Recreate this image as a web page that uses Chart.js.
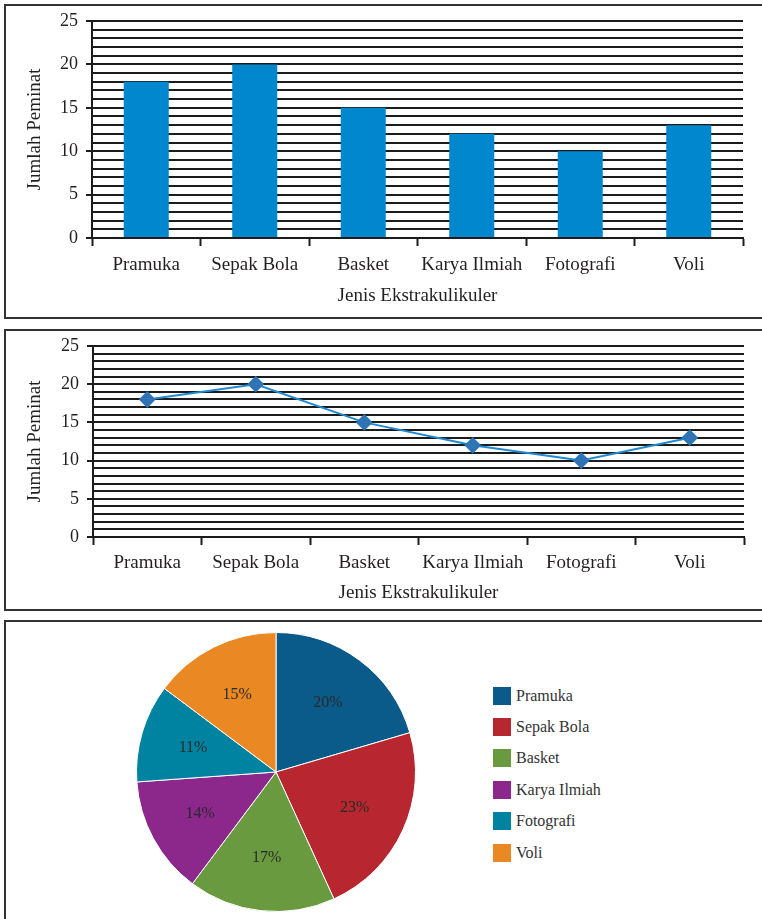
<!DOCTYPE html>
<html>
<head>
<meta charset="utf-8">
<script src="https://cdn.jsdelivr.net/npm/chart.js@4.4.1/dist/chart.umd.min.js"></script>
<style>
  html, body { margin: 0; padding: 0; background: #fff; }
  body { width: 762px; height: 919px; position: relative; overflow: hidden; }
  .panel { position: absolute; left: 4px; width: 800px; box-sizing: border-box; border: 2px solid #333; }
  canvas { position: absolute; }
  #legend { position: absolute; left: 493px; top: 680px; font-family: 'Liberation Serif', 'Times New Roman', serif; font-size: 16px; color: #333; }
  #legend .row { display: flex; align-items: center; height: 31.4px; }
  #legend .box { width: 18px; height: 18px; margin-right: 5px; }
</style>
</head>
<body>
<div class="panel" style="top:4px;height:315px;"></div>
<div class="panel" style="top:329px;height:282px;"></div>
<div class="panel" style="top:620px;height:400px;"></div>

<canvas id="barChart" width="762" height="320" style="left:0;top:0;"></canvas>
<canvas id="lineChart" width="762" height="300" style="left:0;top:320px;"></canvas>
<canvas id="pieChart" width="300" height="300" style="left:126px;top:622px;"></canvas>
<div id="legend"></div>

<script>
const categories = ['Pramuka', 'Sepak Bola', 'Basket', 'Karya Ilmiah', 'Fotografi', 'Voli'];
const peminat = [18, 20, 15, 12, 10, 13];
const pieColors = ['#0a5a8a', '#b8272f', '#6a9a3f', '#8c288c', '#0083a0', '#ea8823'];
const yTitle = 'Jumlah Peminat';
const xTitle = 'Jenis Ekstrakulikuler';

Chart.defaults.font.family = "'Liberation Serif', 'Times New Roman', serif";
Chart.defaults.color = '#231f20';
Chart.defaults.animation = false;

const black = '#1c1c1c';

function makeScales(yWidth, tickPad, titlePad) {
    return {
        x: {
            offset: true,
            afterFit: (scale) => { scale.height = tickPad.h; },
            grid: {
                offset: true,
                drawOnChartArea: false,
                drawTicks: true,
                tickLength: 8,
                tickColor: black,
                tickWidth: 2
            },
            border: {display: true, color: black, width: 2},
            ticks: {font: {size: 19}, padding: tickPad.p, maxRotation: 0, autoSkip: false},
            title: {display: true, text: xTitle, font: {size: 19}, padding: {top: 0, bottom: titlePad}}
        },
        y: {
            min: 0,
            max: 25,
            afterFit: (scale) => { scale.width = yWidth; },
            ticks: {
                stepSize: 1,
                maxTicksLimit: 30,
                autoSkip: false,
                padding: 8,
                font: {size: 18},
                callback: (v) => (v % 5 === 0 ? v : '')
            },
            grid: {
                color: black,
                lineWidth: 2,
                tickLength: 6,
                tickWidth: 2,
                tickColor: (ctx) => (ctx.tick && ctx.tick.value % 5 === 0 ? black : 'rgba(0,0,0,0)')
            },
            border: {display: true, color: black, width: 2},
            title: {display: true, text: yTitle, font: {size: 19}, padding: {top: 24, bottom: 0}}
        }
    };
}

new Chart(document.getElementById('barChart'), {
    type: 'bar',
    data: {
        labels: categories,
        datasets: [{
            data: peminat,
            backgroundColor: '#0087cd',
            barPercentage: 0.415,
            categoryPercentage: 1
        }]
    },
    options: {
        responsive: false,
        layout: {padding: {top: 21, right: 19, left: 0, bottom: 0}},
        plugins: {legend: {display: false}, tooltip: {enabled: false}},
        scales: makeScales(92, {h: 82, p: 8}, 13)
    }
});

new Chart(document.getElementById('lineChart'), {
    type: 'line',
    data: {
        labels: categories,
        datasets: [{
            data: peminat,
            borderColor: '#1e8ad2',
            borderWidth: 2,
            pointStyle: 'rectRot',
            pointRadius: 7,
            pointBackgroundColor: '#2f74b5',
            pointBorderColor: '#2f74b5',
            tension: 0
        }]
    },
    options: {
        responsive: false,
        layout: {padding: {top: 26, right: 18, left: 0, bottom: 0}},
        plugins: {legend: {display: false}, tooltip: {enabled: false}},
        scales: makeScales(93, {h: 83, p: 7}, 16)
    }
});

const total = peminat.reduce((a, b) => a + b, 0);

const pieLabels = {
    id: 'pieLabels',
    afterDatasetsDraw(chart) {
        const ctx = chart.ctx;
        const meta = chart.getDatasetMeta(0);
        ctx.save();
        ctx.font = "16px 'Liberation Serif', 'Times New Roman', serif";
        ctx.fillStyle = '#2a2a2a';
        ctx.textAlign = 'center';
        ctx.textBaseline = 'middle';
        meta.data.forEach((arc, i) => {
            const mid = (arc.startAngle + arc.endAngle) / 2;
            const r = arc.outerRadius * 0.62;
            const pct = Math.round(peminat[i] / total * 100) + '%';
            ctx.fillText(pct, arc.x + Math.cos(mid) * r, arc.y + Math.sin(mid) * r);
        });
        ctx.restore();
    }
};

new Chart(document.getElementById('pieChart'), {
    type: 'pie',
    data: {
        labels: categories,
        datasets: [{
            data: peminat,
            backgroundColor: pieColors,
            borderColor: '#ffffff',
            borderWidth: 1,
            hoverOffset: 0
        }]
    },
    options: {
        responsive: false,
        layout: {padding: 10},
        plugins: {legend: {display: false}, tooltip: {enabled: false}}
    },
    plugins: [pieLabels]
});

const legend = document.getElementById('legend');
categories.forEach((name, i) => {
    const row = document.createElement('div');
    row.className = 'row';
    const box = document.createElement('span');
    box.className = 'box';
    box.style.background = pieColors[i];
    const label = document.createElement('span');
    label.textContent = name;
    row.appendChild(box);
    row.appendChild(label);
    legend.appendChild(row);
});
</script>
</body>
</html>
